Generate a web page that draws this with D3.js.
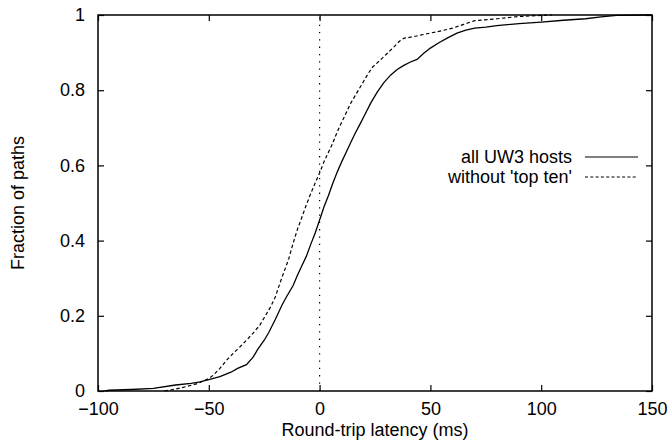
<!DOCTYPE html>
<html>
<head>
<meta charset="utf-8">
<script src="https://cdn.jsdelivr.net/npm/d3@7"></script>
<style>
  body { margin: 0; background: #fff; }
  svg { display: block; font-family: "Liberation Sans", Arial, sans-serif; }
  .frame { fill: none; stroke: #000; stroke-width: 1.5; }
  .axis path { display: none; }
  .axis line { stroke: #000; stroke-width: 1.2; }
  .axis text { font-size: 18px; fill: #000; }
</style>
</head>
<body>
<div id="chart"></div>
<script>
// Round-trip latency CDF values
const allHostsX = [-97, -95, -85, -75, -65, -58, -54, -50, -45, -40, -37, -33, -30, -28, -25, -23, -20, -17, -15, -12, -10, -8, -6, -4, -2, 0,
  2, 4, 6, 8, 10, 12, 14, 16, 18, 20, 23, 26, 29, 32, 35, 38, 41, 44, 47, 50, 54, 58, 62, 66, 70, 75, 80, 90, 100, 110, 120, 127, 134, 150];
const allHostsY = [0, 0.002, 0.004, 0.007, 0.016, 0.02, 0.024, 0.03, 0.038, 0.05, 0.06, 0.07, 0.09, 0.11, 0.135, 0.155, 0.19, 0.228, 0.25, 0.28, 0.308, 0.333, 0.358, 0.39, 0.42, 0.455,
  0.49, 0.52, 0.553, 0.583, 0.61, 0.635, 0.66, 0.685, 0.707, 0.73, 0.765, 0.795, 0.82, 0.84, 0.855, 0.866, 0.875, 0.882, 0.898, 0.912, 0.927, 0.94, 0.952, 0.96, 0.965, 0.968, 0.972, 0.977, 0.981, 0.986, 0.99, 0.995, 0.999, 1];

const topTenX = [-70, -65, -60, -55, -50, -48, -45, -42, -39, -36, -33, -30, -27, -25, -22, -20, -18, -16, -14, -12, -10, -8, -6, -4, -2, 0,
  2, 4, 6, 8, 10, 12, 14, 16, 18, 20, 22, 24, 27, 30, 33, 36, 38, 42, 46, 50, 55, 60, 65, 70, 80, 90, 100, 105];
const topTenY = [0, 0.005, 0.012, 0.02, 0.033, 0.042, 0.06, 0.082, 0.1, 0.117, 0.135, 0.154, 0.175, 0.195, 0.225, 0.25, 0.285, 0.318, 0.35, 0.392, 0.43, 0.462, 0.495, 0.525, 0.553, 0.58,
  0.61, 0.635, 0.66, 0.69, 0.715, 0.74, 0.765, 0.785, 0.805, 0.825, 0.845, 0.862, 0.878, 0.895, 0.912, 0.93, 0.938, 0.942, 0.947, 0.952, 0.958, 0.965, 0.975, 0.985, 0.99, 0.996, 0.999, 1];

const xTicks = [-100, -50, 0, 50, 100, 150];
const yTicks = [0, 0.2, 0.4, 0.6, 0.8, 1];
const yTickLabels = ["0", "0.2", "0.4", "0.6", "0.8", "1"];
const seriesNames = ["all UW3 hosts", "without 'top ten'"];

const width = 668, height = 443;
const margin = { top: 15, right: 16, bottom: 52, left: 98 };
const plotW = width - margin.left - margin.right;
const plotH = height - margin.top - margin.bottom;

const svg = d3.select("#chart").append("svg")
  .attr("width", width)
  .attr("height", height);

const g = svg.append("g")
  .attr("transform", `translate(${margin.left},${margin.top})`);

const x = d3.scaleLinear().domain([-100, 150]).range([0, plotW]);
const y = d3.scaleLinear().domain([0, 1]).range([plotH, 0]);

// axes, gnuplot style: ticks point inwards on all four sides
g.append("g").attr("class", "axis")
  .attr("transform", `translate(0,${plotH})`)
  .call(d3.axisBottom(x).tickValues(xTicks).tickSize(-6).tickPadding(11));

g.append("g").attr("class", "axis")
  .call(d3.axisTop(x).tickValues(xTicks).tickSize(-6).tickFormat(""));

g.append("g").attr("class", "axis")
  .call(d3.axisLeft(y).tickValues(yTicks).tickSize(-6).tickPadding(13)
    .tickFormat((d, i) => yTickLabels[i]));

g.append("g").attr("class", "axis")
  .attr("transform", `translate(${plotW},0)`)
  .call(d3.axisRight(y).tickValues(yTicks).tickSize(-6).tickFormat(""));

// zero line
g.append("line")
  .attr("x1", x(0)).attr("x2", x(0))
  .attr("y1", y(0)).attr("y2", y(1))
  .attr("stroke", "#000")
  .attr("stroke-width", 1.2)
  .attr("stroke-dasharray", "1.3,6");

const line = d3.line()
  .x(d => x(d[0]))
  .y(d => y(d[1]));

const allHosts = d3.zip(allHostsX, allHostsY);
const topTen = d3.zip(topTenX, topTenY);

g.append("path")
  .datum(topTen)
  .attr("fill", "none")
  .attr("stroke", "#000")
  .attr("stroke-width", 1.2)
  .attr("stroke-dasharray", "3.5,2.5")
  .attr("d", line);

g.append("path")
  .datum(allHosts)
  .attr("fill", "none")
  .attr("stroke", "#000")
  .attr("stroke-width", 1.3)
  .attr("d", line);

g.append("rect")
  .attr("class", "frame")
  .attr("width", plotW)
  .attr("height", plotH);

// legend
const legend = g.append("g").attr("transform", `translate(${plotW - 14},${142})`);
seriesNames.forEach((name, i) => {
  const row = legend.append("g").attr("transform", `translate(0,${i * 20})`);
  row.append("text")
    .attr("x", -66)
    .attr("dy", "0.35em")
    .attr("text-anchor", "end")
    .style("font-size", "18px")
    .text(name);
  row.append("line")
    .attr("x1", -53).attr("x2", 0)
    .attr("stroke", "#000")
    .attr("stroke-width", 1.2)
    .attr("stroke-dasharray", i === 0 ? null : "3,2.3");
});

// axis titles
svg.append("text")
  .attr("x", margin.left + plotW / 2)
  .attr("y", 436)
  .attr("text-anchor", "middle")
  .style("font-size", "18px")
  .text("Round-trip latency (ms)");

svg.append("text")
  .attr("transform", `translate(18,${margin.top + plotH / 2}) rotate(-90)`)
  .attr("text-anchor", "middle")
  .attr("dy", "0.35em")
  .style("font-size", "18px")
  .text("Fraction of paths");
</script>
</body>
</html>
